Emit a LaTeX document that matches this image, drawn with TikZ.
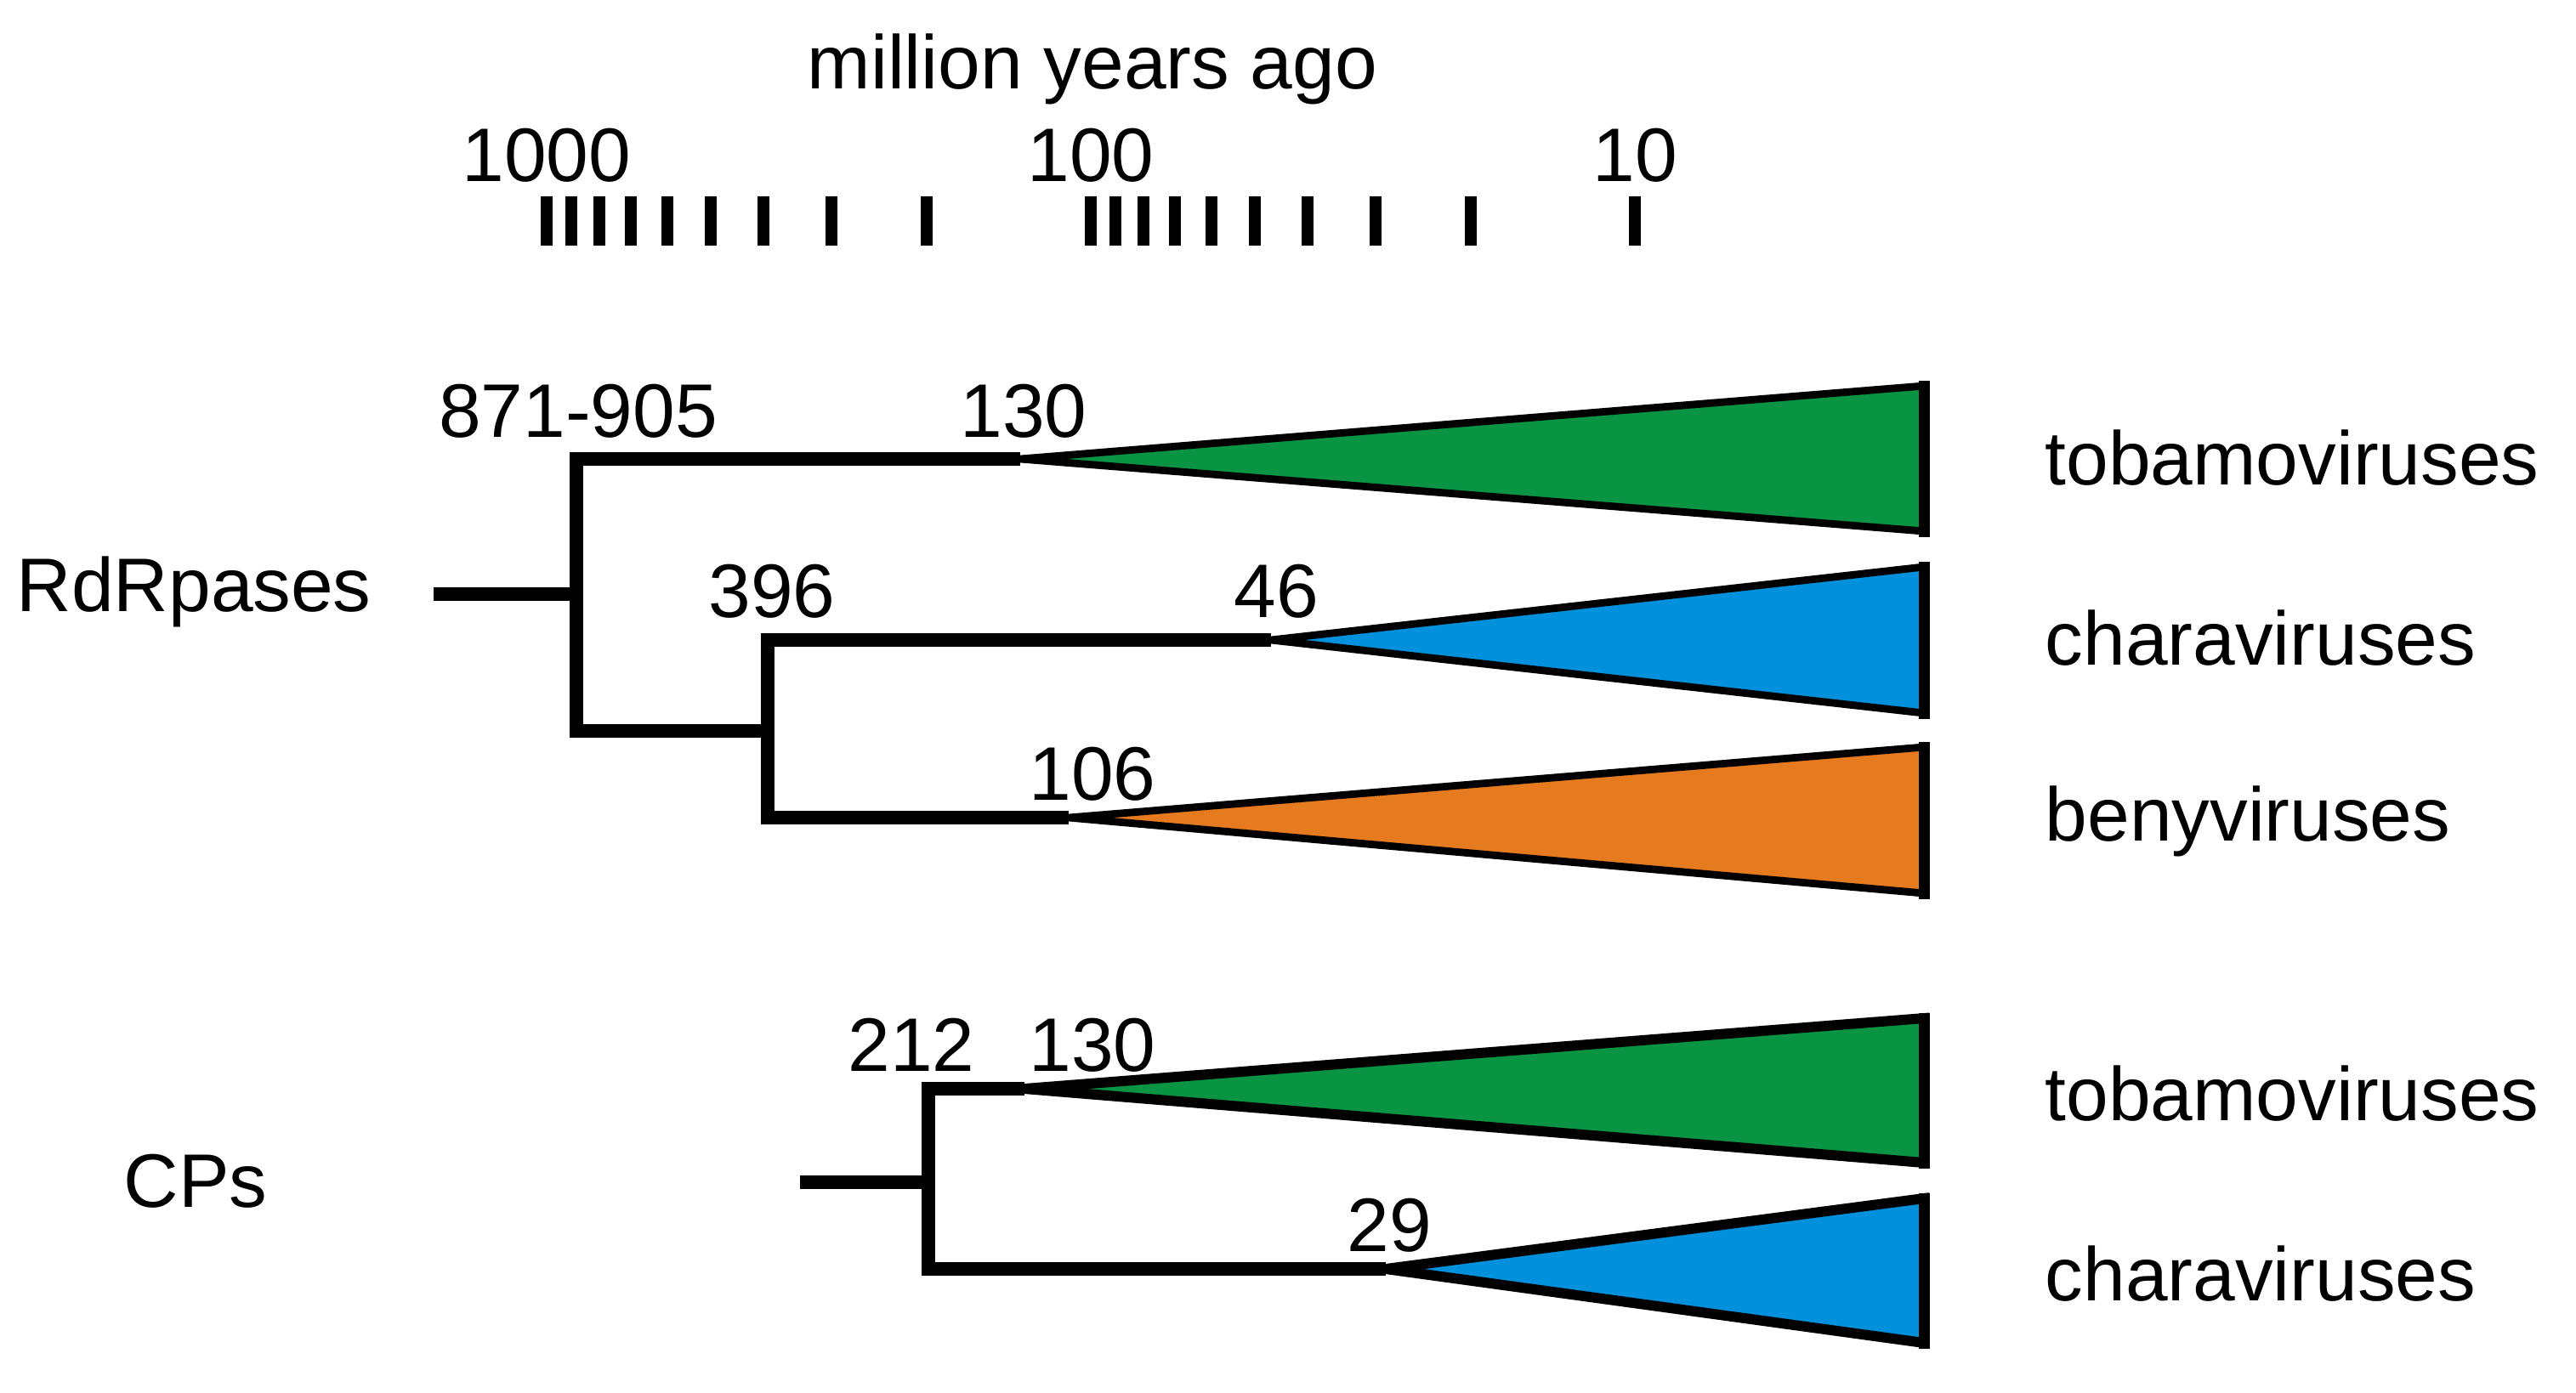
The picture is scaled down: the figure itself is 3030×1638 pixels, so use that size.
\documentclass[tikz,border=0pt]{standalone}
\usepackage{fontspec}
\setmainfont{Liberation Sans}
\definecolor{tgreen}{RGB}{8,148,66}
\definecolor{tblue}{RGB}{0,144,220}
\definecolor{torange}{RGB}{230,122,30}
\begin{document}
\begin{tikzpicture}[x=0.01cm,y=-0.01cm,
  lbl/.style={inner sep=0pt, font=\fontsize{25.4}{30}\selectfont},
  branch/.style={line width=4.8pt, line join=miter, line cap=butt},
  clade/.style={line width=2.5pt, line join=miter},
  cpclade/.style={line width=3.4pt, line join=miter},
  cladeend/.style={line width=3.7pt, line cap=rect},
  tick/.style={line width=4.2pt}]
\useasboundingbox (0,0) rectangle (3030,1638);
% scale
\node[lbl, anchor=base] (title) at (1285,104) {million years ago};
\node[lbl, anchor=base] (t1000) at (643,213) {1000};
\node[lbl, anchor=base] (t100) at (1283,213) {100};
\node[lbl, anchor=base] (t10) at (1923,213) {10};
\foreach \x in {643,672,705,742,785,836,898,978,1090,1283,1312,1345,1382,1425,1476,1538,1618,1730,1923}
  \draw[tick] (\x,231) -- (\x,289);
% RdRpase tree coordinates
\coordinate (rroot) at (510,699);
\coordinate (Atop) at (678,540);
\coordinate (Amid) at (678,699);
\coordinate (Abot) at (678,860);
\coordinate (Btop) at (903,753);
\coordinate (Bmid) at (903,860);
\coordinate (Bbot) at (903,962);
\coordinate (tobA) at (1200,540);
\coordinate (chaA) at (1495,753);
\coordinate (benA) at (1257,962);
\coordinate (tobT) at (2263,454);
\coordinate (tobB) at (2263,625);
\coordinate (chaT) at (2263,667);
\coordinate (chaB) at (2263,839);
\coordinate (benT) at (2263,879);
\coordinate (benB) at (2263,1051);
% clades
\draw[clade, fill=tgreen] (tobA) -- (tobT) -- (tobB) -- cycle;
\draw[cladeend] (tobT) -- (tobB);
\draw[clade, fill=tblue] (chaA) -- (chaT) -- (chaB) -- cycle;
\draw[cladeend] (chaT) -- (chaB);
\draw[clade, fill=torange] (benA) -- (benT) -- (benB) -- cycle;
\draw[cladeend] (benT) -- (benB);
% branches
\draw[branch] (rroot) -- (Amid);
\draw[branch] (tobA) -- (Atop) -- (Abot) -- (Bmid);
\draw[branch] (chaA) -- (Btop) -- (Bbot) -- (benA);
% CP tree
\coordinate (croot) at (941,1391);
\coordinate (Ctop) at (1092,1281);
\coordinate (Cmid) at (1092,1391);
\coordinate (Cbot) at (1092,1493);
\coordinate (ctobA) at (1205,1281);
\coordinate (cchaA) at (1630,1493);
\coordinate (ctobT) at (2263,1198);
\coordinate (ctobB) at (2263,1368);
\coordinate (cchaT) at (2263,1410);
\coordinate (cchaB) at (2263,1580);
\draw[cpclade, fill=tgreen] (ctobA) -- (ctobT) -- (ctobB) -- cycle;
\draw[cladeend] (ctobT) -- (ctobB);
\draw[cpclade, fill=tblue] (cchaA) -- (cchaT) -- (cchaB) -- cycle;
\draw[cladeend] (cchaT) -- (cchaB);
\draw[branch] (croot) -- (Cmid);
\draw[branch] (ctobA) -- (Ctop) -- (Cbot) -- (cchaA);
% node ages
\node[lbl, anchor=base] (lA) at (680,514) {871-905};
\node[lbl, anchor=base] (ltob) at (1204,514) {130};
\node[lbl, anchor=base] (lB) at (908,726) {396};
\node[lbl, anchor=base] (lcha) at (1501,726) {46};
\node[lbl, anchor=base] (lben) at (1285,941) {106};
\node[lbl, anchor=base] (lC) at (1072,1260) {212};
\node[lbl, anchor=base] (lctob) at (1285,1260) {130};
\node[lbl, anchor=base] (lccha) at (1634,1472) {29};
% taxa
\node[lbl, anchor=base west] (ntob) at (2405,570) {tobamoviruses};
\node[lbl, anchor=base west] (ncha) at (2405,782) {charaviruses};
\node[lbl, anchor=base west] (nben) at (2405,989) {benyviruses};
\node[lbl, anchor=base west] (nctob) at (2405,1318) {tobamoviruses};
\node[lbl, anchor=base west] (nccha) at (2405,1530) {charaviruses};
% groups
\node[lbl, anchor=base west] (grd) at (19,719) {RdRpases};
\node[lbl, anchor=base west] (gcp) at (145,1420) {CPs};
\end{tikzpicture}
\end{document}
